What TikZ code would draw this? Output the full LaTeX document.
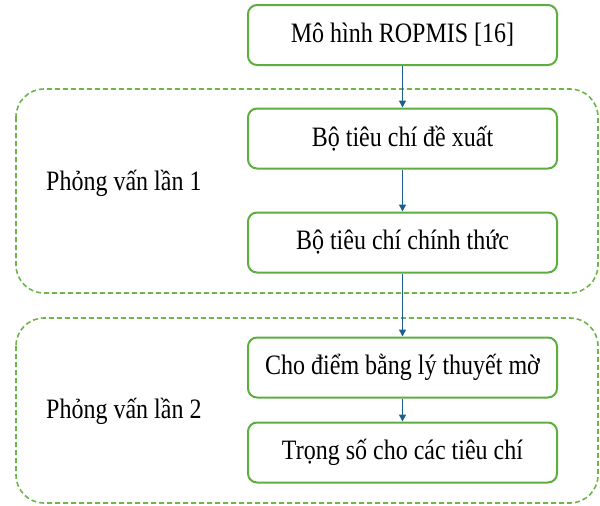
\documentclass[tikz,border=0pt]{standalone}
\usepackage{fontspec}
\setmainfont{Liberation Serif}
\usepackage{graphicx}
\usetikzlibrary{arrows.meta}
\definecolor{boxgreen}{HTML}{5DAE3E}
\definecolor{dashgreen}{HTML}{6DB54A}
\definecolor{arrowblue}{HTML}{1F5F8C}
\newcommand\stx[1]{\scalebox{1}[1.17]{#1}}
\tikzset{
  stepbox/.style={draw=boxgreen, line width=2pt, rounded corners=9pt, fill=white,
    minimum width=309pt, minimum height=60pt, inner sep=0pt,
    font=\fontsize{24}{24}\selectfont},
  groupbox/.style={draw=dashgreen, line width=1.6pt, dash pattern=on 5pt off 3pt, rounded corners=28pt},
  grouplabel/.style={anchor=base west, inner sep=0pt, font=\fontsize{24}{24}\selectfont},
  flow/.style={draw=arrowblue, line width=1.6pt, -{Triangle[length=7pt,width=7pt]}}
}
\begin{document}
\begin{tikzpicture}[x=1pt,y=-1pt]
\useasboundingbox (0,0) rectangle (600,506);
\draw[groupbox] (16,89) rectangle (598,293);
\draw[groupbox] (16,318) rectangle (598,503);
\node[stepbox] (a) at (402.5,35) {\stx{Mô hình ROPMIS [16]}};
\node[stepbox] (b) at (402.5,138.5) {\stx{Bộ tiêu chí đề xuất}};
\node[stepbox] (c) at (402.5,242.5) {\stx{Bộ tiêu chí chính thức}};
\node[stepbox] (d) at (402.5,367.5) {\stx{Cho điểm bằng lý thuyết mờ}};
\node[stepbox] (e) at (402.5,452.5) {\stx{Trọng số cho các tiêu chí}};
\node[grouplabel] (g1) at (46,190) {\stx{Phỏng vấn lần 1}};
\node[grouplabel] (g2) at (46,418) {\stx{Phỏng vấn lần 2}};
\draw[flow] (a) -- (b);
\draw[flow] (b) -- (c);
\draw[flow] (c) -- (d);
\draw[flow] (d) -- (e);
\end{tikzpicture}
\end{document}
